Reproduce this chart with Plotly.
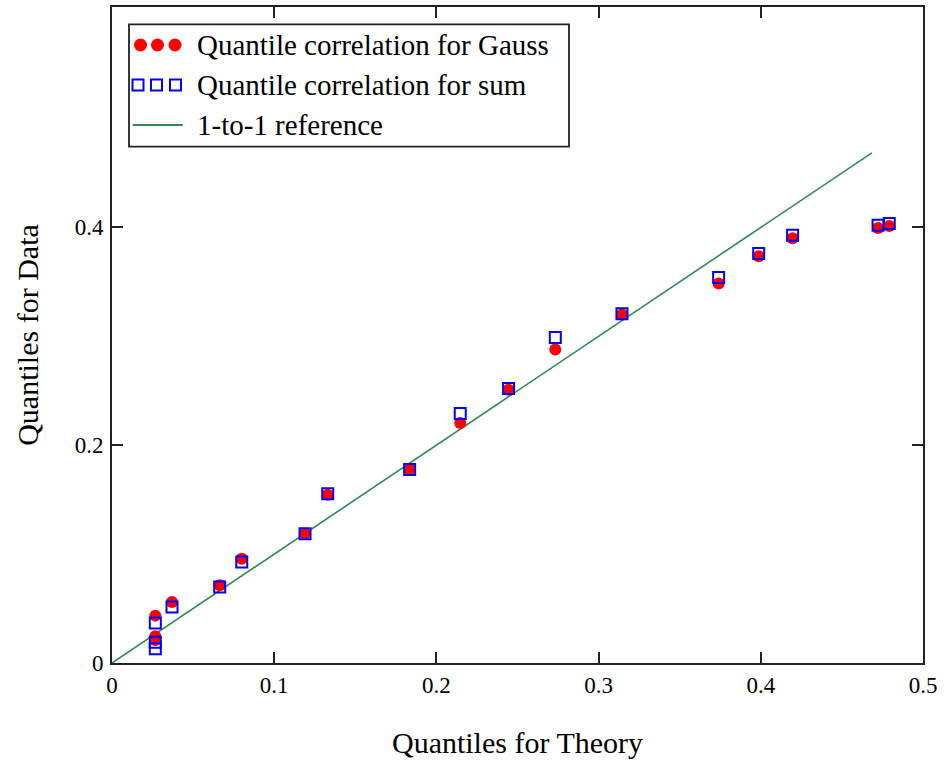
import plotly.graph_objects as go

# Data
theory_gauss = [0.0267, 0.0267, 0.0267, 0.037, 0.0664, 0.080, 0.119, 0.133, 0.1835, 0.2147,
                0.2445, 0.2733, 0.3144, 0.374, 0.3987, 0.4196, 0.4723, 0.4792]
data_gauss = [0.0435, 0.0245, 0.021, 0.056, 0.0713, 0.0958, 0.1188, 0.1546, 0.1776, 0.2204,
              0.251, 0.2878, 0.320, 0.3484, 0.3735, 0.390, 0.3994, 0.4013]
theory_sum = [0.0267, 0.0267, 0.0267, 0.037, 0.0664, 0.080, 0.119, 0.133, 0.1835, 0.2147,
              0.2445, 0.2733, 0.3144, 0.374, 0.3987, 0.4196, 0.4723, 0.4792]
data_sum = [0.0367, 0.019, 0.013, 0.0514, 0.0698, 0.0927, 0.1188, 0.1555, 0.1776, 0.229,
            0.252, 0.2988, 0.3208, 0.354, 0.376, 0.3927, 0.4019, 0.4035]
ref_x = [0.0, 0.4685]
ref_y = [0.0, 0.4685]

legend_labels = ["Quantile correlation for Gauss", "Quantile correlation for sum", "1-to-1 reference"]
x_ticks = [0, 0.1, 0.2, 0.3, 0.4, 0.5]
x_tick_text = ["0", "0.1", "0.2", "0.3", "0.4", "0.5"]
y_ticks = [0, 0.2, 0.4]
y_tick_text = ["0", "0.2", "0.4"]

RED = "#ff0000"
BLUE = "#0000ff"
GREEN = "#2e8b57"
FONT = "Liberation Serif"

W, H = 944, 764
L, R, T, B = 112, 21, 7, 101
PW, PH = W - L - R, H - T - B

fig = go.Figure()
fig.add_trace(go.Scatter(x=ref_x, y=ref_y, mode="lines", line=dict(color=GREEN, width=1.6),
                         name=legend_labels[2], showlegend=False))
fig.add_trace(go.Scatter(x=theory_gauss, y=data_gauss, mode="markers",
                         marker=dict(symbol="circle", size=12, color=RED, line=dict(width=0)),
                         name=legend_labels[0], showlegend=False))
fig.add_trace(go.Scatter(x=theory_sum, y=data_sum, mode="markers",
                         marker=dict(symbol="square-open", size=11, color=BLUE, line=dict(width=2, color=BLUE)),
                         name=legend_labels[1], showlegend=False))


def px(xp):
    return (xp - L) / PW


def py(yp):
    return (H - B - yp) / PH


shapes = []
annotations = []
# legend frame
shapes.append(dict(type="rect", xref="paper", yref="paper", x0=px(129), x1=px(569), y0=py(146.7), y1=py(24.3),
                   line=dict(color="#222222", width=1.8), fillcolor="white", layer="above"))
rows = [45, 85, 125]
# row 1: three red dots
for cx in [140.5, 157.5, 175]:
    r = 6.5
    shapes.append(dict(type="circle", xref="paper", yref="paper", x0=px(cx - r), x1=px(cx + r),
                       y0=py(rows[0] + r), y1=py(rows[0] - r), fillcolor=RED, line=dict(width=0), layer="above"))
# row 2: three blue open squares
for cx in [138, 156.5, 175.5]:
    r = 5.5
    shapes.append(dict(type="rect", xref="paper", yref="paper", x0=px(cx - r), x1=px(cx + r),
                       y0=py(rows[1] + r), y1=py(rows[1] - r), fillcolor="rgba(0,0,0,0)",
                       line=dict(color=BLUE, width=2), layer="above"))
# row 3: green line
shapes.append(dict(type="line", xref="paper", yref="paper", x0=px(132.7), x1=px(182.7),
                   y0=py(rows[2]), y1=py(rows[2]), line=dict(color=GREEN, width=2), layer="above"))
for lab, yy in zip(legend_labels, rows):
    annotations.append(dict(text=lab, xref="paper", yref="paper", x=px(195), y=py(yy), xanchor="left",
                            yanchor="middle", showarrow=False, font=dict(family=FONT, size=29, color="black")))

axis_common = dict(showgrid=False, zeroline=False, showline=True, linecolor="#222222", linewidth=2,
                   mirror="allticks", ticks="inside", ticklen=11, tickwidth=1.6, tickcolor="#222222",
                   tickfont=dict(family=FONT, size=23, color="black"))

fig.update_layout(
    width=W, height=H,
    margin=dict(l=L, r=R, t=T, b=B, autoexpand=False),
    paper_bgcolor="white", plot_bgcolor="white",
    showlegend=False,
    shapes=shapes, annotations=annotations,
    xaxis=dict(range=[0, 0.5], tickvals=x_ticks, ticktext=x_tick_text,
               title=dict(text="Quantiles for Theory", font=dict(family=FONT, size=30, color="black"), standoff=35),
               **axis_common),
    yaxis=dict(range=[0, 0.6024], tickvals=y_ticks, ticktext=y_tick_text, ticklabelstandoff=2,
               title=dict(text="Quantiles for Data", font=dict(family=FONT, size=30, color="black"), standoff=27),
               **axis_common),
)

fig.write_html("out.html", post_script="document.body.style.margin='0px';",
               config={"displayModeBar": False})
